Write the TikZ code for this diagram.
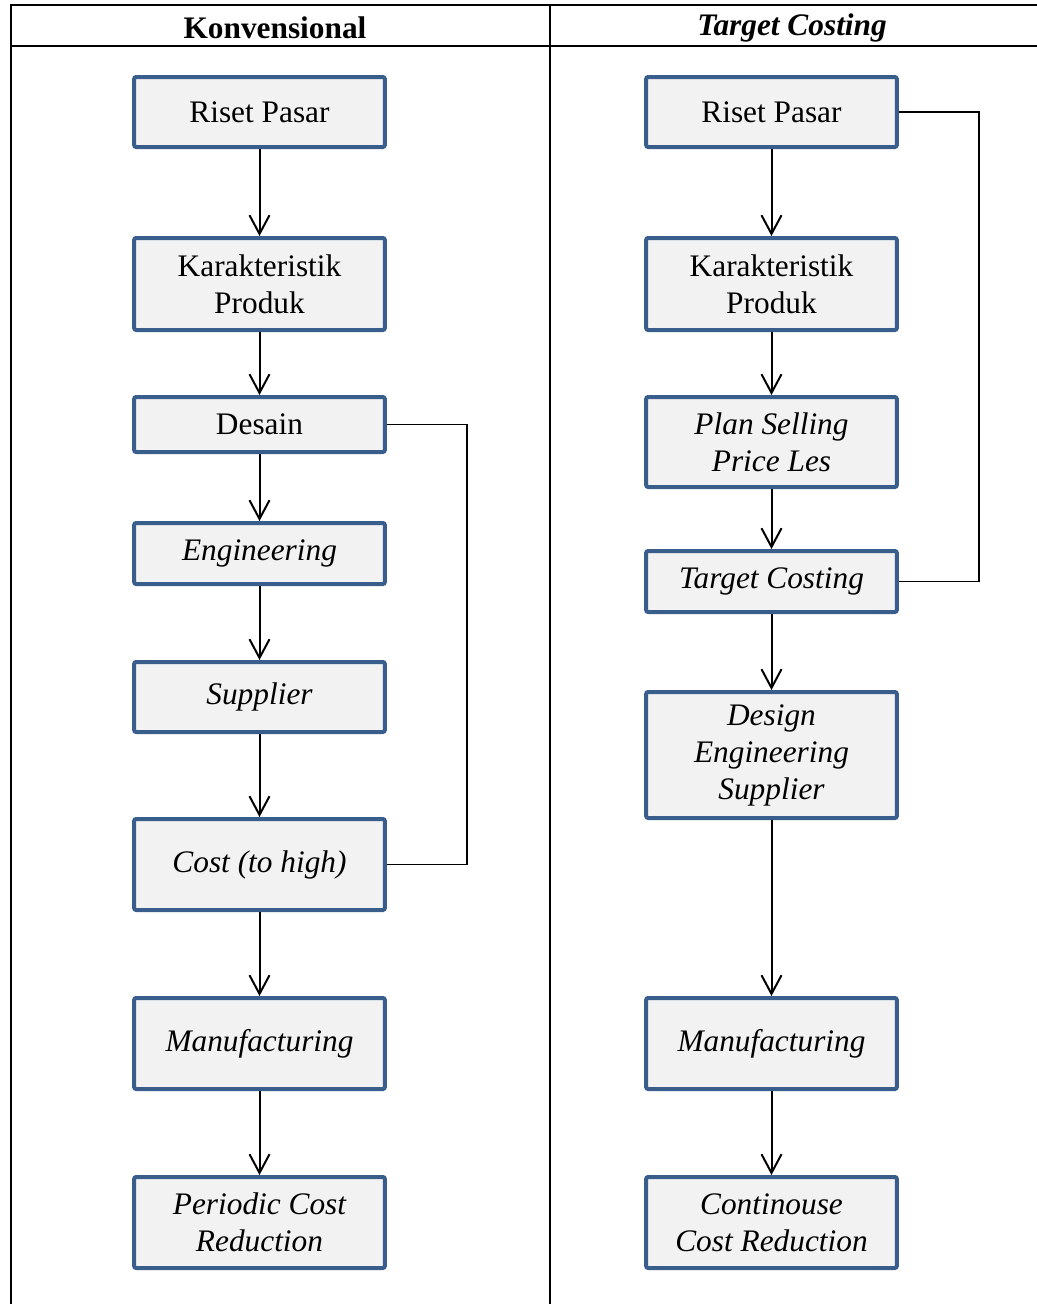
\documentclass[tikz,border=0pt]{standalone}
\usepackage{fontspec}
\setmainfont{Liberation Serif}
\usetikzlibrary{arrows.meta}

\definecolor{boxblue}{RGB}{58,94,140}
\definecolor{boxgray}{RGB}{242,242,242}

\tikzset{
  boks/.style={draw=boxblue, fill=boxgray, line width=3pt, rounded corners=1.5pt,
    minimum width=188pt, align=center, inner sep=2pt,
    font=\fontsize{23.5}{27.75}\selectfont},
  panah/.style={line width=1.5pt, -{Straight Barb[length=14pt,width=15pt,line width=1.5pt]}},
  balik/.style={line width=1.1pt},
  garis/.style={line width=1.5pt}
}

\begin{document}
\begin{tikzpicture}[x=0.75pt,y=-0.75pt]
				\useasboundingbox (0,0) rectangle (1037,1304);
				
				% tabel
				\draw[garis] (10,5) -- (1037,5);
				\draw[garis] (10,46) -- (1037,46);
				\draw[garis] (11,5) -- (11,1304);
				\draw[garis] (550,5) -- (550,1304);
				\node (hK) at (275,28) {\fontsize{23.5}{27}\selectfont\bfseries Konvensional};
				\node (hT) at (792,28) {\fontsize{23.5}{27}\selectfont\bfseries\itshape Target Costing};
				
				% konvensional
				\node[boks, minimum height=52.5pt] (L1) at (259.5,112) {Riset Pasar};
				\node[boks, minimum height=69pt] (L2) at (259.5,284) {Karakteristik\\Produk};
				\node[boks, minimum height=41.25pt] (L3) at (259.5,424.5) {Desain};
				\node[boks, minimum height=45.75pt] (L4) at (259.5,553.5) {\itshape Engineering};
				\node[boks, minimum height=52.5pt] (L5) at (259.5,697) {\itshape Supplier};
				\node[boks, minimum height=68.25pt] (L6) at (259.5,864.5) {\itshape Cost (to high)};
				\node[boks, minimum height=68.25pt] (L7) at (259.5,1043.5) {\itshape Manufacturing};
				\node[boks, minimum height=68.25pt] (L8) at (259.5,1222.5) {\itshape Periodic Cost\\\itshape Reduction};
				
				\draw[panah] (L1) -- (L2);
				\draw[panah] (L2) -- (L3);
				\draw[panah] (L3) -- (L4);
				\draw[panah] (L4) -- (L5);
				\draw[panah] (L5) -- (L6);
				\draw[panah] (L6) -- (L7);
				\draw[panah] (L7) -- (L8);
				
				\draw[balik] (L3.east) -- ++(80,0) |- (L6.east);
				
				% target costing
				\node[boks, minimum height=52.5pt] (R1) at (771.5,112) {Riset Pasar};
				\node[boks, minimum height=69pt] (R2) at (771.5,284) {Karakteristik\\Produk};
				\node[boks, minimum height=67.5pt] (R3) at (771.5,442) {\itshape Plan Selling\\\itshape Price Les};
				\node[boks, minimum height=45.75pt] (R4) at (771.5,581.5) {\itshape Target Costing};
				\node[boks, minimum height=94.5pt] (R5) at (771.5,755) {\itshape Design\\\itshape Engineering\\\itshape Supplier};
				\node[boks, minimum height=68.25pt] (R6) at (771.5,1043.5) {\itshape Manufacturing};
				\node[boks, minimum height=68.25pt] (R7) at (771.5,1222.5) {\itshape Continouse\\\itshape Cost Reduction};
				
				\draw[panah] (R1) -- (R2);
				\draw[panah] (R2) -- (R3);
				\draw[panah] (R3) -- (R4);
				\draw[panah] (R4) -- (R5);
				\draw[panah] (R5) -- (R6);
				\draw[panah] (R6) -- (R7);
				
				\draw[balik] (R1.east) -- ++(80,0) |- (R4.east);
\end{tikzpicture}
\end{document}
